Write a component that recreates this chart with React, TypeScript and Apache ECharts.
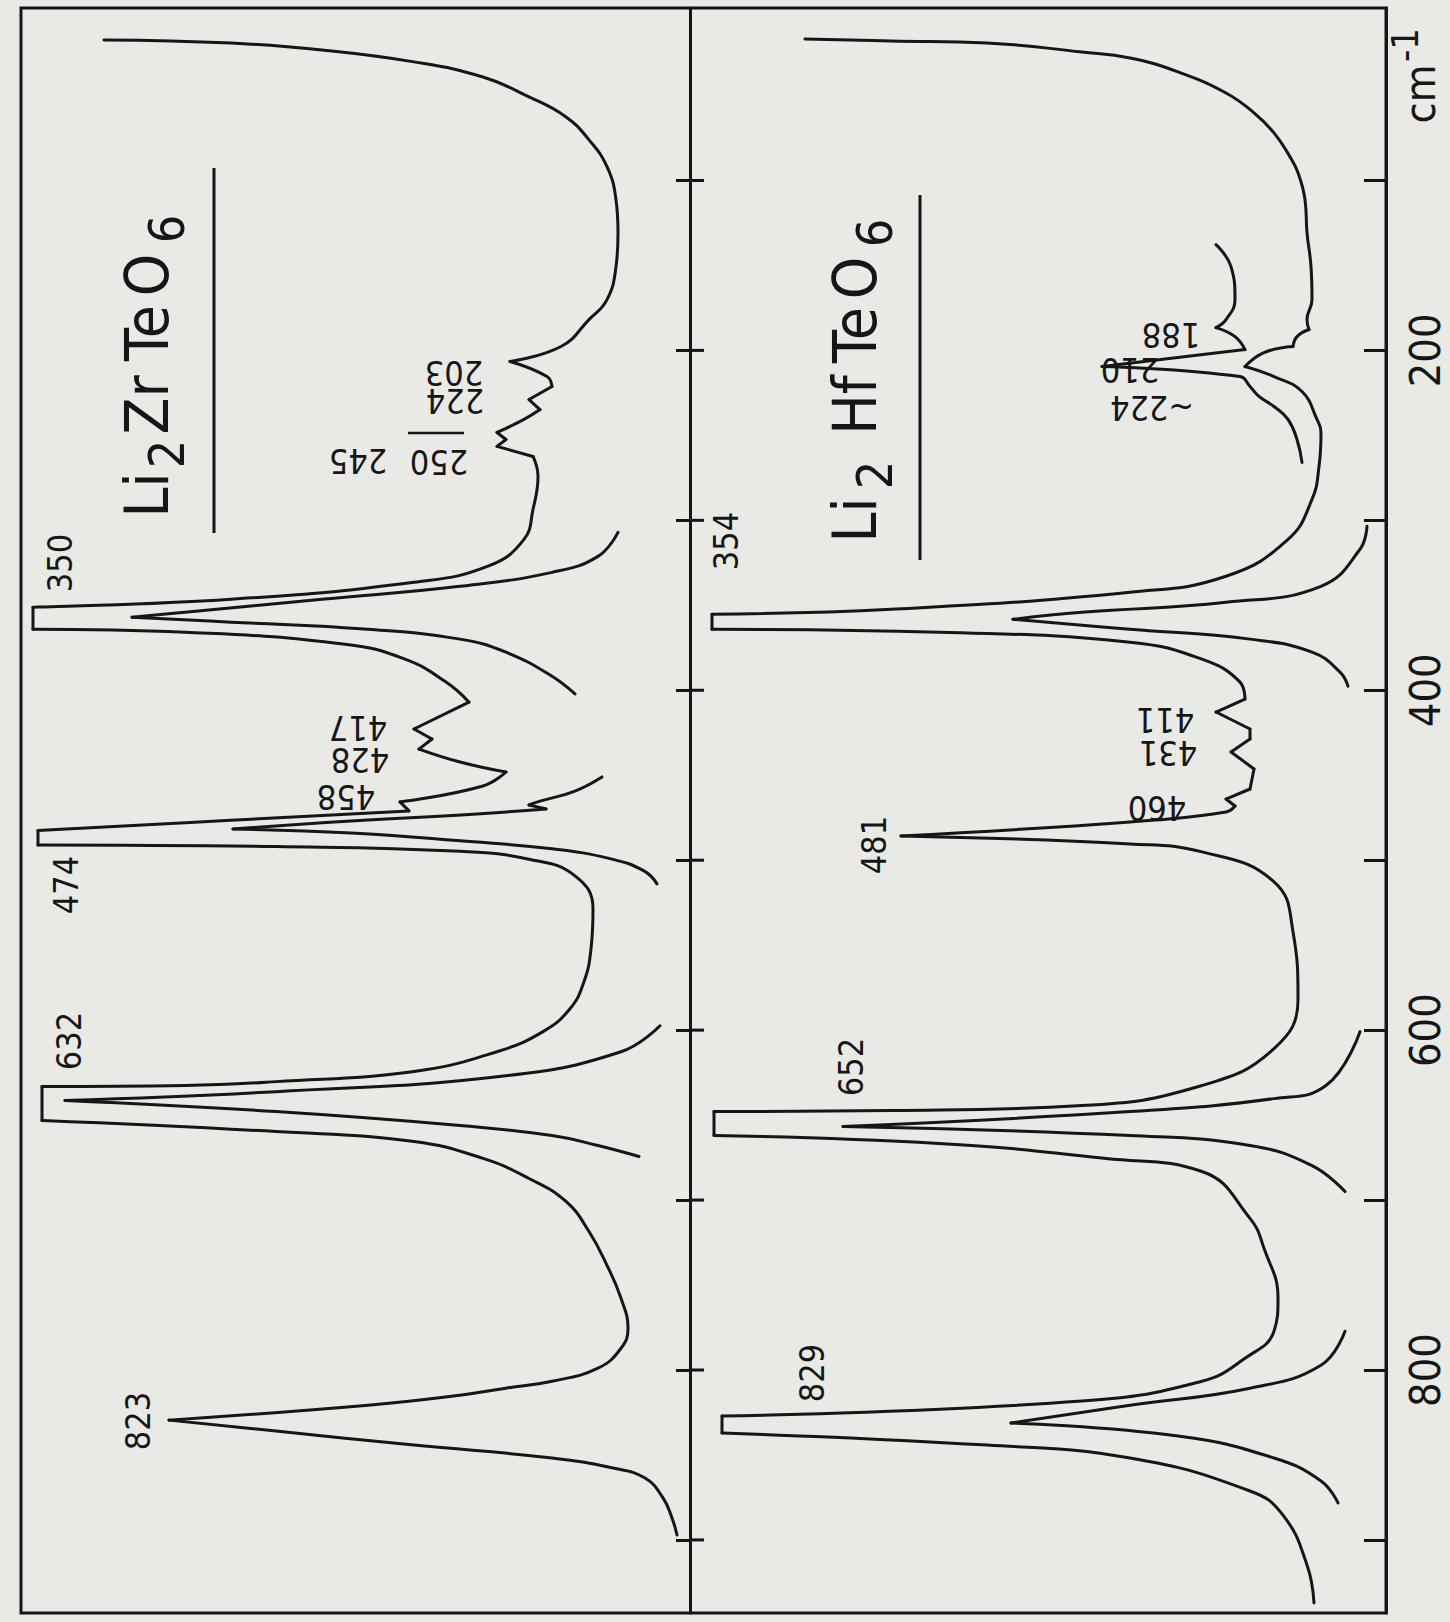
import React, { useEffect, useRef } from 'react';
import * as echarts from 'echarts';

// ---------- axis ----------
const wavenumberTicks = [100, 200, 300, 400, 500, 600, 700, 800, 900];
const wavenumberLabels = [200, 400, 600, 800];

// ---------- Li2ZrTeO6 traces: [relative intensity, wavenumber cm-1] ----------
const zrMain = [
  [83, 17.3], [210, 19.1], [301, 23.2], [393, 30.2], [462, 39.1], [508, 50.8], [545, 62.6], [568, 76.1],
  [586, 91.9], [595, 111.3], [597, 130.7], [595, 150.7], [586, 170.1], [568, 181.9], [540, 197.7],
  [489, 206.5], [526, 215.4], [531, 221.2], [508, 228.9], [519, 234.8], [503, 240.6], [476, 248.3],
  [485, 252.4], [476, 256.5], [512, 262.4], [517, 274.1], [512, 293.5], [503, 311.2], [467, 327.0],
  [393, 336.4], [210, 346.4], [12, 351.1], [12, 364.1], [164, 365.9], [324, 372.9], [384, 381.7],
  [425, 395.2], [448, 407.0], [393, 422.8], [411, 428.7], [398, 434.6], [439, 442.2], [485, 448.1],
  [462, 456.3], [379, 465.7], [388, 471.0], [210, 476.5], [17, 482.5], [17, 491.0], [255, 492.0],
  [439, 494.8], [508, 499.4], [554, 509.2], [572, 528.6], [570, 552.1], [563, 571.5], [549, 587.4],
  [522, 600.9], [476, 612.7], [393, 624.3], [255, 630.3], [164, 632.6], [21, 633.2], [21, 653.2],
  [255, 659.7], [393, 665.5], [462, 675.5], [508, 687.3], [545, 700.8], [568, 718.5], [586, 738.4],
  [600, 757.8], [607, 775.4], [600, 787.2], [577, 798.9], [531, 806.6], [485, 810.7], [439, 814.8],
  [347, 820.7], [148, 829.5], [255, 835.9], [393, 844.2], [531, 851.8], [592, 857.7], [624, 863.6],
  [642, 875.3], [651, 887.1], [656, 897.1],
];
const zrBand350 = [
  [597, 307.1], [577, 321.2], [531, 330.6], [439, 338.8], [301, 346.4], [164, 354.1], [111, 357.0],
  [210, 359.9], [347, 364.1], [439, 369.9], [485, 377.6], [531, 391.7], [554, 402.2],
];
const zrBand474 = [
  [581, 451.0], [554, 459.3], [520, 465.1], [508, 467.5], [525, 469.8], [440, 473.4], [330, 476.9],
  [212, 481.6], [330, 484.0], [439, 488.6], [531, 493.3], [590, 499.2], [623, 506.3], [636, 513.9],
];
const zrBand632 = [
  [639, 597.4], [600, 612.7], [485, 626.8], [255, 636.2], [44, 641.4], [255, 647.9], [439, 656.1],
  [531, 662.0], [577, 667.9], [618, 674.4],
];

// ---------- Li2HfTeO6 traces ----------
const hfMain = [
  [115, 16.7], [201, 17.9], [297, 19.1], [392, 24.4], [440, 27.9], [488, 36.1], [536, 48.5], [564, 60.2],
  [584, 72.0], [600, 86.1], [608, 95.5], [615, 111.3], [617, 130.7], [621, 150.7], [622, 170.1],
  [617, 181.9], [619, 187.7], [607, 191.9], [603, 197.7], [574, 201.3], [555, 209.5], [584, 215.4],
  [612, 224.2], [627, 240.6], [631, 248.3], [629, 268.3], [622, 287.7], [598, 311.2], [536, 332.9],
  [440, 342.3], [201, 352.3], [22, 355.2], [22, 364.1], [249, 365.9], [440, 371.7], [512, 381.7],
  [550, 395.2], [555, 405.2], [526, 412.8], [560, 422.8], [560, 428.7], [541, 436.3], [564, 446.3],
  [560, 458.1], [536, 464.0], [545, 468.1], [536, 471.6], [440, 477.5], [211, 485.7], [440, 490.4],
  [512, 495.1], [584, 512.7], [603, 542.1], [608, 581.5], [584, 610.9], [512, 632.6], [392, 644.4],
  [201, 647.3], [24, 647.9], [24, 662.0], [249, 666.7], [416, 675.5], [512, 683.2], [560, 710.8],
  [574, 728.4], [588, 757.8], [584, 777.2], [555, 793.1], [512, 806.6], [392, 818.3], [32, 827.1],
  [32, 837.1], [297, 844.2], [440, 851.8], [560, 871.2], [593, 885.4], [617, 914.7], [624, 937.1],
];
const hfBand210 = [
  [526, 137.8], [541, 150.7], [545, 170.1], [536, 181.9], [526, 186.6], [545, 191.9], [555, 199.5],
  [412, 209.5], [550, 215.4], [560, 221.2], [569, 227.1], [584, 233.0], [598, 240.6], [607, 252.4],
  [612, 265.9],
];
const hfBand354 = [
  [677, 303.5], [670, 317.0], [631, 338.8], [536, 348.2], [392, 354.1], [323, 358.2], [440, 364.1],
  [560, 369.9], [622, 377.6], [650, 389.3], [658, 397.6],
];
const hfBand652 = [
  [670, 600.9], [636, 632.6], [584, 640.3], [440, 647.9], [153, 656.7], [440, 662.0], [560, 667.9],
  [622, 679.7], [655, 695.0],
];
const hfBand829 = [
  [655, 777.2], [631, 797.2], [560, 810.7], [440, 820.7], [321, 831.2], [488, 838.9], [584, 851.8],
  [631, 865.3], [648, 878.2],
];

// ---------- annotation texts ----------
const zrPeakLabels = ['823', '632', '474', '350'];
const hfPeakLabels = ['829', '652', '481', '354'];
const zrShoulderLabels = ['203', '224', '250', '245', '417', '428', '458'];
const hfShoulderLabels = ['188', '210', '~224', '411', '431', '460'];
const zrTitle = ['Li', '2', 'Zr', 'Te', 'O', '6'];
const hfTitle = ['Li', '2', 'Hf', 'Te', 'O', '6'];

// ---------- layout (pixels) ----------
const INK = '#161616';
const PAPER = '#e9e9e6';
const FONT = '"DejaVu Sans Condensed", "DejaVu Sans", sans-serif';
const zrPeakPos = [[138, 1421], [69, 1041], [66, 885], [60, 563]];
const hfPeakPos = [[812, 1373], [851, 1067], [874, 845], [726, 541]];
const zrShoulderPos = [[454, 373], [455, 401], [439, 462], [358, 461], [358, 728], [360, 760], [346, 797]];
const hfShoulderPos = [[1171, 335], [1130, 370], [1152, 408], [1165, 720], [1168, 753], [1157, 808]];
// [x, y, fontSize]
const zrTitlePos = [[147, 495, 60], [167, 454, 50], [147, 405, 60], [147, 333, 60], [147, 275, 60], [167, 229, 50]];
const hfTitlePos = [[855, 520, 60], [875, 475, 50], [855, 405, 60], [855, 335, 60], [855, 278, 60], [875, 233, 50]];

const G_TOP = 8;
const G_BOTTOM = 1613;
const X_LEFT = 21;
const X_MID = 690;
const X_RIGHT = 1386;
const Y_MIN = -1.5;
const Y_MAX = 943;
const PX_PER_CM = (G_BOTTOM - G_TOP) / (Y_MAX - Y_MIN);
const MID_TICK = 14;

// split a trace at its sharp corners (peak tips, clipped plateaus) so that
// the smooth parts can be drawn smooth and the corners stay sharp
function splitAtCorners(data: number[][]) {
  const segs: number[][][] = [];
  let cur: number[][] = [data[0]];
  for (let i = 1; i < data.length; i++) {
    cur.push(data[i]);
    if (i < data.length - 1) {
      const ax = data[i][0] - data[i - 1][0];
      const ay = (data[i][1] - data[i - 1][1]) * PX_PER_CM;
      const bx = data[i + 1][0] - data[i][0];
      const by = (data[i + 1][1] - data[i][1]) * PX_PER_CM;
      const cos = (ax * bx + ay * by) / (Math.hypot(ax, ay) * Math.hypot(bx, by));
      const ang = (Math.acos(Math.max(-1, Math.min(1, cos))) * 180) / Math.PI;
      if (ang > 50) {
        segs.push(cur);
        cur = [data[i]];
      }
    }
  }
  segs.push(cur);
  return segs;
}

function rotText(text: string, x: number, y: number, size: number, rotation: number) {
  return {
    type: 'text',
    x,
    y,
    rotation,
    silent: true,
    style: {
      text,
      fill: INK,
      font: `${size}px ${FONT}`,
      align: 'center',
      verticalAlign: 'middle',
    },
  };
}

function buildGraphics() {
  const graphics: any[] = [];
  graphics.push({
    type: 'rect',
    silent: true,
    shape: { x: X_LEFT, y: G_TOP, width: X_RIGHT - X_LEFT, height: G_BOTTOM - G_TOP },
    style: { fill: 'none', stroke: INK, lineWidth: 3 },
  });
  zrPeakLabels.forEach((t, i) => graphics.push(rotText(t, zrPeakPos[i][0], zrPeakPos[i][1], 34, Math.PI / 2)));
  hfPeakLabels.forEach((t, i) => graphics.push(rotText(t, hfPeakPos[i][0], hfPeakPos[i][1], 34, Math.PI / 2)));
  zrShoulderLabels.forEach((t, i) => graphics.push(rotText(t, zrShoulderPos[i][0], zrShoulderPos[i][1], 34, Math.PI)));
  hfShoulderLabels.forEach((t, i) => graphics.push(rotText(t, hfShoulderPos[i][0], hfShoulderPos[i][1], 34, Math.PI)));
  zrTitle.forEach((t, i) => graphics.push(rotText(t, zrTitlePos[i][0], zrTitlePos[i][1], zrTitlePos[i][2], Math.PI / 2)));
  hfTitle.forEach((t, i) => graphics.push(rotText(t, hfTitlePos[i][0], hfTitlePos[i][1], hfTitlePos[i][2], Math.PI / 2)));
  graphics.push({ type: 'line', silent: true, shape: { x1: 214, y1: 168, x2: 214, y2: 533 }, style: { stroke: INK, lineWidth: 3 } });
  graphics.push({ type: 'line', silent: true, shape: { x1: 920, y1: 195, x2: 920, y2: 560 }, style: { stroke: INK, lineWidth: 3 } });
  graphics.push({ type: 'line', silent: true, shape: { x1: 408, y1: 433, x2: 464, y2: 433 }, style: { stroke: INK, lineWidth: 2.5 } });
  graphics.push(rotText('cm', 1420, 94, 43, Math.PI / 2));
  graphics.push(rotText('-1', 1405, 45, 38, Math.PI / 2));
  return graphics;
}

function buildOption(graphics: any[]) {
  const yBase = {
    type: 'value',
    inverse: true,
    min: Y_MIN,
    max: Y_MAX,
    splitLine: { show: false },
  };
  const series: any[] = [];
  const addTrace = (data: number[][], grid: number) => {
    splitAtCorners(data).forEach((seg) => {
      series.push({
        type: 'line',
        xAxisIndex: grid,
        yAxisIndex: grid,
        data: seg,
        symbol: 'none',
        showSymbol: false,
        silent: true,
        clip: false,
        smooth: 0.45,
        lineStyle: { color: INK, width: 3, join: 'round', cap: 'round' },
      });
    });
  };
  addTrace(zrMain, 0);
  addTrace(zrBand350, 0);
  addTrace(zrBand474, 0);
  addTrace(zrBand632, 0);
  addTrace(hfMain, 1);
  addTrace(hfBand210, 1);
  addTrace(hfBand354, 1);
  addTrace(hfBand652, 1);
  addTrace(hfBand829, 1);

  const tickStyle = { color: INK, width: 3 };
  return {
    animation: false,
    backgroundColor: PAPER,
    grid: [
      { left: X_LEFT, top: G_TOP, width: X_MID - X_LEFT, height: G_BOTTOM - G_TOP },
      { left: X_MID, top: G_TOP, width: X_RIGHT - X_MID, height: G_BOTTOM - G_TOP },
    ],
    xAxis: [
      { type: 'value', gridIndex: 0, min: 0, max: X_MID - X_LEFT, show: false },
      { type: 'value', gridIndex: 1, min: 0, max: X_RIGHT - X_MID, show: false },
    ],
    yAxis: [
      {
        // divider between the panels, ticks pointing into the upper (Zr) panel
        ...yBase,
        gridIndex: 0,
        position: 'right',
        axisLine: { show: true, onZero: false, lineStyle: tickStyle },
        axisTick: { show: true, inside: true, length: MID_TICK, customValues: wavenumberTicks, lineStyle: tickStyle },
        axisLabel: { show: false },
      },
      {
        ...yBase,
        gridIndex: 1,
        position: 'right',
        axisLine: { show: true, onZero: false, lineStyle: tickStyle },
        axisTick: { show: true, inside: true, length: 22, customValues: wavenumberTicks, lineStyle: tickStyle },
        axisLabel: {
          show: true,
          customValues: wavenumberLabels,
          rotate: 90,
          margin: 17,
          fontSize: 43,
          fontFamily: FONT,
          color: INK,
        },
      },
    ],
    series,
    graphic: graphics,
  };
}

export default function App() {
  const ref = useRef<HTMLDivElement>(null);
  useEffect(() => {
    if (!ref.current) return;
    const chart = echarts.init(ref.current, null, { renderer: 'svg' });
    const graphics = buildGraphics();
    chart.setOption(buildOption(graphics) as any);
    // the divider ticks also reach into the lower (Hf) panel: place them with the axis scale
    const crossTicks = wavenumberTicks.map((w) => {
      const y = chart.convertToPixel({ yAxisIndex: 0 }, w) as number;
      return {
        type: 'line',
        silent: true,
        shape: { x1: X_MID, y1: y, x2: X_MID + MID_TICK, y2: y },
        style: { stroke: INK, lineWidth: 3 },
      };
    });
    chart.setOption({ graphic: [...graphics, ...crossTicks] } as any);
    return () => chart.dispose();
  }, []);
  return (
    <div
      ref={ref}
      style={{ position: 'absolute', left: 0, top: 0, width: 1450, height: 1622, background: PAPER }}
    />
  );
}
